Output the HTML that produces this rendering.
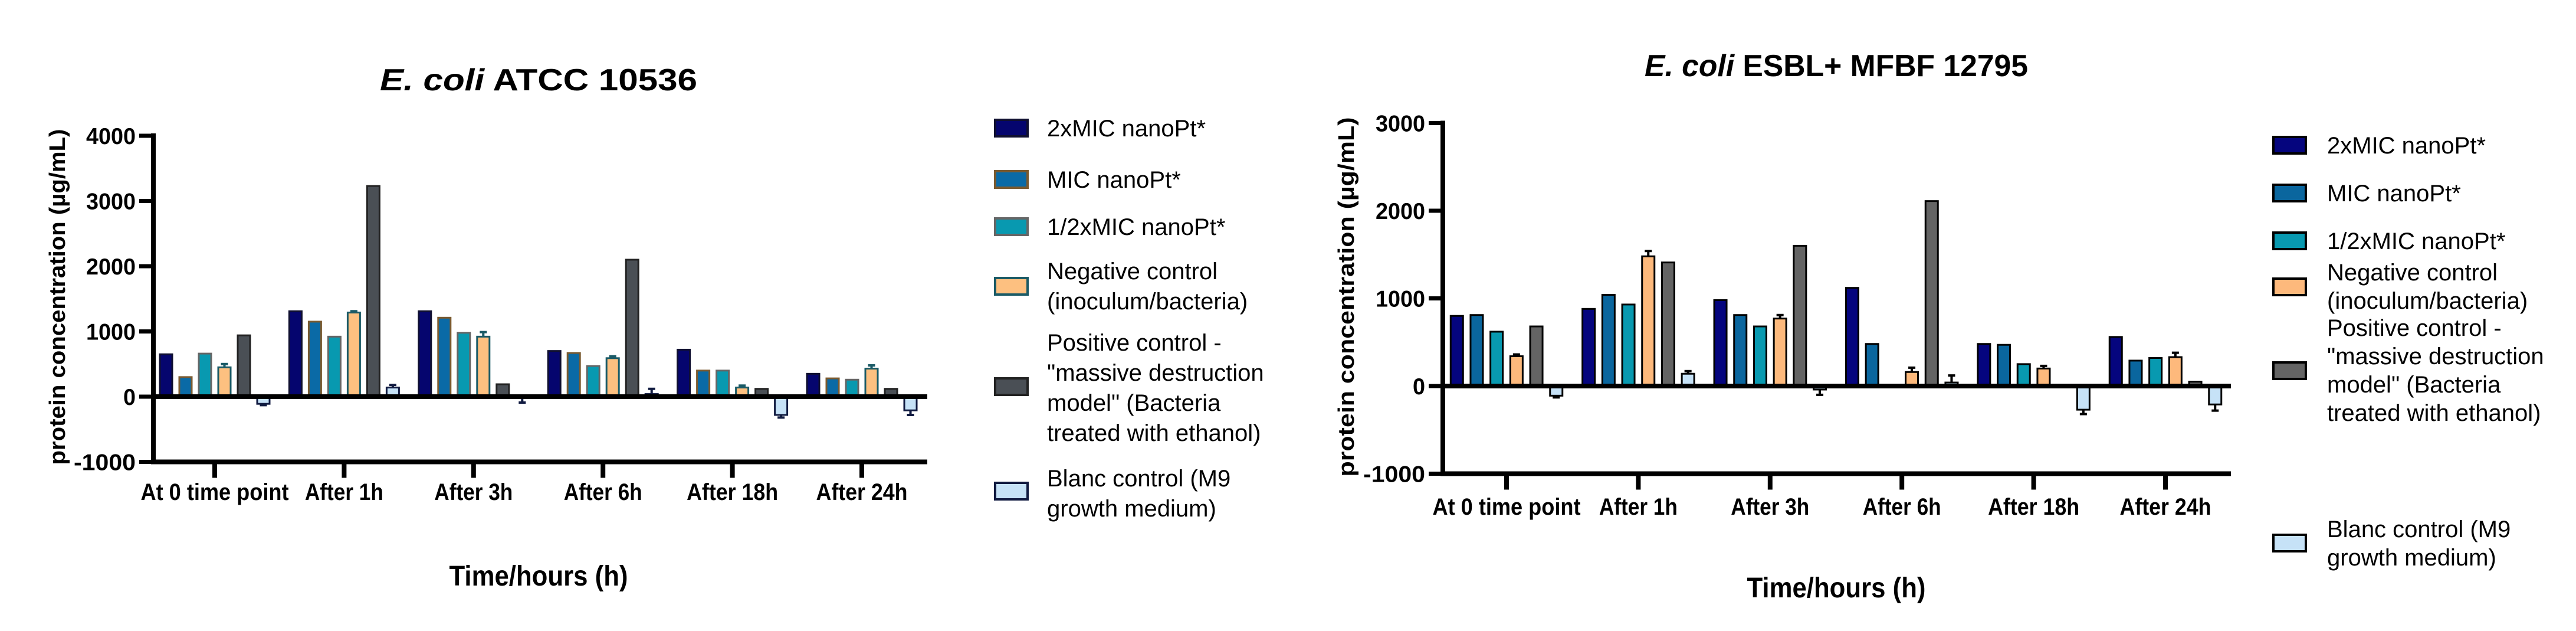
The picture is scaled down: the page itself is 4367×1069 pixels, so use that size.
<!DOCTYPE html>
<html><head><meta charset="utf-8"><style>
html,body{margin:0;padding:0;background:#fff;overflow:hidden;}
svg{display:block;}
text{font-family:"Liberation Sans",sans-serif;}
</style></head><body>
<svg id="root" width="4367" height="1069" viewBox="0 0 4367 1069" xmlns="http://www.w3.org/2000/svg">
<g id="chartL"></g>
<g id="chartR"></g>
</svg>
<script>
// ---- data ----
const categories = ["At 0 time point","After 1h","After 3h","After 6h","After 18h","After 24h"];
const seriesNames = ["2xMIC nanoPt*","MIC nanoPt*","1/2xMIC nanoPt*","Negative control (inoculum/bacteria)","Positive control - \"massive destruction model\" (Bacteria treated with ethanol)","Blanc control (M9 growth medium)"];
// left chart (E. coli ATCC 10536)
const leftS1 = [650,1310,1310,700,720,350];
const leftS2 = [300,1150,1210,670,400,280];
const leftS3 = [660,920,980,470,400,260];
const leftS4 = [450,1290,920,590,140,430];
const leftS5 = [940,3230,190,2100,120,120];
const leftS6 = [-110,140,-20,40,-280,-210];
const leftErr4 = [50,20,70,30,30,50];
const leftErr6 = [20,40,70,80,40,70];
const leftTicks = [-1000,0,1000,2000,3000,4000];
// right chart (E. coli ESBL+ MFBF 12795)
const rightS1 = [800,880,980,1120,480,560];
const rightS2 = [810,1040,810,480,470,290];
const rightS3 = [620,930,680,0,250,320];
const rightS4 = [340,1480,770,160,200,330];
const rightS5 = [680,1410,1600,2110,10,50];
const rightS6 = [-110,140,-40,40,-270,-210];
const rightErr4 = [20,60,40,50,30,50];
const rightErr6 = [20,30,60,80,50,70];
const rightTicks = [-1000,0,1000,2000,3000];

const NS="http://www.w3.org/2000/svg";
function mk(parent,tag,attrs,txt){const e=document.createElementNS(NS,tag);for(const k in attrs)e.setAttribute(k,attrs[k]);if(txt!=null)e.textContent=txt;parent.appendChild(e);return e;}

function drawChart(g,cfg){
  const y=v=>cfg.y0-v*cfg.pxPer1000/1000;
  const x=i=>cfg.c0+i*cfg.cstep;
  cfg.series.forEach((vals,s)=>{
    vals.forEach((v,i)=>{
      const bx=x(i)-(5*cfg.bstep+cfg.bw)/2+s*cfg.bstep;
      const top=Math.min(y(v),y(0)), h=Math.max(Math.abs(y(v)-y(0)),1);
      const r=mk(g,'rect',{x:bx,y:top,width:cfg.bw,height:h,fill:cfg.fills[s],stroke:cfg.strokes[s],'stroke-width':3});
      
      
      const err = s===3?cfg.err4[i]:(s===5?cfg.err6[i]:null);
      if(err){
        const cx=bx+cfg.bw/2, dir=v>=0?-1:1, ey=y(v)+dir*err*cfg.pxPer1000/1000;
        const e=mk(g,'path',{d:`M${cx} ${y(v)}L${cx} ${ey}M${cx-6} ${ey}L${cx+6} ${ey}`,stroke:cfg.errColor[s],'stroke-width':4,fill:'none'});
        
        
      }
    });
  });
  const ax=mk(g,'path',{d:`M${cfg.ax} ${y(cfg.ticks[cfg.ticks.length-1])-4}L${cfg.ax} ${y(-1000)}L${cfg.xEnd} ${y(-1000)}M${cfg.ax} ${y(0)}L${cfg.xEnd} ${y(0)}`,stroke:'#000','stroke-width':8,fill:'none'});
  
  
  cfg.ticks.forEach(t=>{
    mk(g,'line',{x1:cfg.ax-24,x2:cfg.ax,y1:y(t),y2:y(t),stroke:'#000','stroke-width':7});
    const tl=mk(g,'text',{x:cfg.ax-30,y:y(t)+14,'text-anchor':'end','font-size':39,'font-weight':'bold',textLength:String(t).length*21,lengthAdjust:'spacingAndGlyphs'},String(t));
    
    
  });
  categories.forEach((c,i)=>{
    mk(g,'line',{x1:x(i),x2:x(i),y1:y(-1000),y2:y(-1000)+27,stroke:'#000','stroke-width':8});
    const w=c.length===15?251:(c.length>8?155:133);
    const cl=mk(g,'text',{x:x(i),y:cfg.catY,'text-anchor':'middle','font-size':40,'font-weight':'bold',textLength:w,lengthAdjust:'spacingAndGlyphs'},c);
    
    
  });
  const xt=mk(g,'text',{x:cfg.xTitleX,y:cfg.xTitleY,'text-anchor':'middle','font-size':48,'font-weight':'bold',textLength:303,lengthAdjust:'spacingAndGlyphs'},'Time/hours (h)');
  
  
  const yt=mk(g,'text',{x:0,y:0,transform:`translate(${cfg.yTitleX} ${cfg.yTitleY}) rotate(-90)`,'text-anchor':'middle','font-size':38,'font-weight':'bold',textLength:cfg.yTitleLen,lengthAdjust:'spacingAndGlyphs'},'protein concentration (µg/mL)');
  
  
  const tt=mk(g,'text',{x:cfg.titleX,y:cfg.titleY,'text-anchor':'middle','font-size':52,'font-weight':'bold',textLength:cfg.titleLen,lengthAdjust:'spacingAndGlyphs'});
  mk(tt,'tspan',{'font-style':'italic'},'E. coli');
  mk(tt,'tspan',{},cfg.titleRest);
  
  
  cfg.legend.forEach((L,s)=>{
    const sw=mk(g,'rect',{x:cfg.lx,y:L.sy-14,width:55,height:28,fill:cfg.fills[s],stroke:cfg.strokes[s],'stroke-width':4});
    
    
    L.lines.forEach((ln,j)=>{
      const lt=mk(g,'text',{x:cfg.ltx,y:L.ty+j*cfg.lsp+14,'font-size':40},ln);
      
      
    });
  });
}

drawChart(document.getElementById('chartL'),{
  series:[leftS1,leftS2,leftS3,leftS4,leftS5,leftS6],err4:leftErr4,err6:leftErr6,ticks:leftTicks,
  y0:672,pxPer1000:110.5,c0:364,cstep:219.4,bstep:33,bw:21,ax:260,xEnd:1572,
  fills:['#05056e','#0a6aa6','#0899b0','#fdc080','#4a4f55','#c6e2f7'],
  strokes:['#101030','#7a5a30','#666666','#1a5a66','#222222','#101a40'],
  errColor:['#000','#000','#000','#1a5a66','#000','#101a40'],
  catY:847,xTitleX:913,xTitleY:992,yTitleX:110,yTitleY:503,yTitleLen:569,
  titleX:913,titleY:153,titleLen:538,titleRest:' ATCC  10536',
  lx:1687,ltx:1775,lsp:51,
  legend:[{sy:217,ty:217,lines:['2xMIC nanoPt*']},{sy:304,ty:304,lines:['MIC nanoPt*']},{sy:384,ty:384,lines:['1/2xMIC nanoPt*']},
    {sy:485,ty:459,lines:['Negative control','(inoculum/bacteria)']},
    {sy:655,ty:580,lines:['Positive control -','"massive destruction','model" (Bacteria','treated with ethanol)']},
    {sy:832,ty:810,lines:['Blanc control (M9','growth medium)']}]
});
drawChart(document.getElementById('chartR'),{
  series:[rightS1,rightS2,rightS3,rightS4,rightS5,rightS6],err4:rightErr4,err6:rightErr6,ticks:rightTicks,
  y0:654,pxPer1000:148.5,c0:2554,cstep:223.4,bstep:33.7,bw:21,ax:2446,xEnd:3782,
  fills:['#05057e','#0a669e','#0899b0','#fdb97c','#646464','#c6e2f7'],
  strokes:['#000','#000','#000','#000','#000','#000'],
  errColor:['#000','#000','#000','#000','#000','#000'],
  catY:872,xTitleX:3113,xTitleY:1012,yTitleX:2295,yTitleY:503,yTitleLen:609,
  titleX:3113,titleY:129,titleLen:650,titleRest:' ESBL+ MFBF 12795',
  lx:3854,ltx:3945,lsp:48,
  legend:[{sy:246,ty:246,lines:['2xMIC nanoPt*']},{sy:327,ty:327,lines:['MIC nanoPt*']},{sy:408,ty:408,lines:['1/2xMIC nanoPt*']},
    {sy:486,ty:461,lines:['Negative control','(inoculum/bacteria)']},
    {sy:628,ty:555,lines:['Positive control -','"massive destruction','model" (Bacteria','treated with ethanol)']},
    {sy:920,ty:896,lines:['Blanc control (M9','growth medium)']}]
});
</script>
</body></html>
